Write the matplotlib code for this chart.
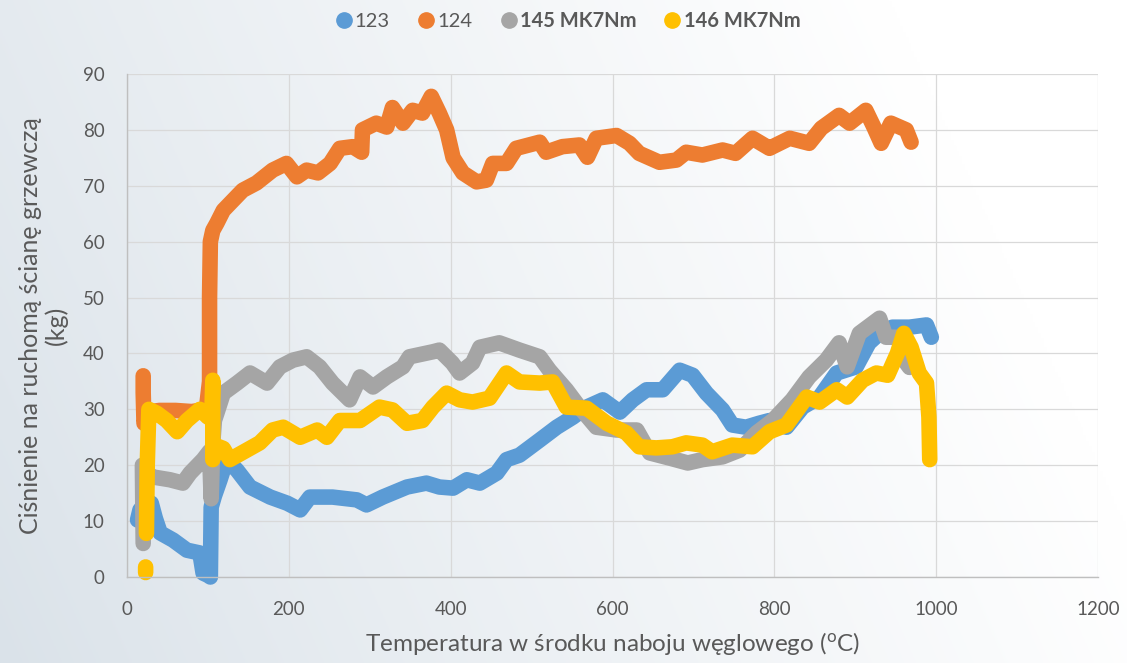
import numpy as np
import matplotlib
matplotlib.use('Agg')
import matplotlib.pyplot as plt

plt.rcParams['font.family'] = ['Lato', 'DejaVu Sans']
plt.rcParams['mathtext.fontset'] = 'custom'
plt.rcParams['mathtext.rm'] = 'Lato'
plt.rcParams['mathtext.it'] = 'Lato'

nan = np.nan

# series 123
blue_x = [13, 16, 22, 30, 35, 41, 57, 74, 90, 94, 100, 103, 104, 108, 115, 123, 136, 152, 177, 198,
          214, 226, 254, 284, 296, 316, 346, 370, 386, 403, 420, 436, 457, 469, 485, 510, 531, 551, 568, 588,
          609, 625, 642, 662, 683, 699, 716, 736, 748, 765, 781, 794, 815, 835, 856, 877, 901, 917, 930, 946,
          967, 988, 994]
blue_y = [10.2, 12.0, 13.0, 13.2, 10.5, 7.9, 6.6, 4.8, 4.3, 0.7, 0.3, 0.0, 12.5, 14.5, 17.4, 21.0, 19.1, 16.1, 14.3, 13.2,
          12.0, 14.3, 14.3, 13.8, 12.9, 14.3, 16.1, 16.8, 16.1, 15.9, 17.4, 16.8, 18.6, 21.0, 21.8, 24.5, 26.8, 28.6, 30.4, 31.7,
          29.5, 31.7, 33.5, 33.5, 37.0, 36.1, 32.9, 29.9, 27.2, 26.8, 27.5, 28.0, 26.8, 30.4, 32.2, 36.5, 37.6, 41.9, 43.6, 44.7,
          44.7, 45.1, 42.9]

# series 124
orange_x = [20, 20, 21, 25, 40, 60, 80, 98, 102, 102, 103, 106, 111, 119, 131, 143, 160, 180, 197, 210,
            222, 236, 251, 263, 279, 290, 291, 308, 321, 328, 341, 353, 365, 376, 386, 395, 403, 415, 432, 444,
            452, 469, 481, 510, 518, 538, 559, 569, 580, 605, 621, 633, 658, 679, 691, 711, 736, 752, 773, 794,
            798, 819, 843, 858, 880, 893, 913, 923, 932, 944, 963, 969]
orange_y = [36, 33, 27.5, 29.5, 29.8, 29.8, 29.6, 30, 35, 50, 60, 62, 63.3, 65.6, 67.4, 69.2, 70.5, 72.8, 74, 71.6,
            72.8, 72.3, 74, 76.7, 77, 76, 80, 81.2, 80.5, 84, 81.2, 83.5, 83, 86, 83, 80, 75, 72.3, 70.7, 71,
            74, 74, 76.7, 77.8, 76, 77, 77.3, 75.1, 78.5, 79, 77.6, 75.8, 74.2, 74.6, 76, 75.5, 76.4, 75.8, 78.5, 76.7,
            77, 78.5, 77.6, 80.3, 82.6, 81.2, 83.5, 80.5, 77.6, 81.2, 80, 77.8]

# series 145 MK7Nm
gray_x = [20, 19, 25, 32, 53, 69, 78, 94, 102, 104, 106, 108, 111, 119, 136, 152, 173, 189, 205, 222,
          238, 254, 275, 288, 304, 321, 341, 349, 378, 386, 402, 411, 427, 436, 460, 485, 510, 522, 543, 559,
          580, 605, 630, 646, 670, 693, 711, 736, 757, 778, 798, 822, 843, 864, 880, 890, 905, 930, 938, 954,
          963, 967]
gray_y = [6, 20, 18.5, 17.9, 17.4, 16.8, 18.6, 21, 22.5, 14, 24, 28, 29.3, 32.9, 34.7, 36.5, 34.7, 37.6, 38.8, 39.4,
          37.6, 34.7, 31.7, 35.8, 34, 35.8, 37.6, 39.4, 40.3, 40.6, 38.3, 36.5, 38.3, 41.1, 41.9, 40.6, 39.4, 37, 33.5, 30.4,
          26.8, 26.3, 26.3, 22.2, 21.3, 20.4, 21, 21.5, 22.7, 25.8, 28, 31.7, 35.8, 38.8, 41.9, 37.6, 43.6, 46.3, 42.9, 42.9,
          38.3, 37.5]

# series 146 MK7Nm (first two points are a separate short piece)
yellow_x = [23, 23, nan, 24, 25, 27, 37, 49, 62, 74, 90, 100, 105, 106, 106, 110, 119, 127, 148, 164,
            180, 193, 214, 235, 247, 263, 288, 312, 328, 346, 365, 378, 395, 411, 427, 448, 469, 485, 510, 526,
            543, 568, 593, 617, 633, 654, 674, 691, 711, 723, 748, 773, 794, 815, 840, 856, 877, 890, 909, 926,
            940, 952, 960, 969, 979, 988, 991, 992]
yellow_y = [0.8, 1.8, nan, 7.8, 20, 30, 29.3, 28, 26, 28, 30, 28.6, 30, 35.2, 21, 23.5, 23, 21, 22.7, 24,
            26.3, 26.8, 25, 26.3, 25, 28, 28, 30.4, 29.9, 27.5, 28, 30.4, 32.9, 31.7, 31.3, 32, 36.5, 34.9, 34.7, 34.9,
            30.4, 30.2, 27.5, 25.8, 23.3, 23.1, 23.3, 24, 23.6, 22.4, 23.6, 23.3, 26, 27.2, 32.2, 31.3, 33.5, 32.2, 35.2, 36.5,
            36.1, 40, 43.6, 41.1, 36.5, 34.7, 28.6, 21]

labels = ['123', '124', '145 MK7Nm', '146 MK7Nm']
colors = ['#5B9BD5', '#ED7D31', '#A5A5A5', '#FFC000']
weights = ['normal', 'normal', 'bold', 'bold']

fig = plt.figure(figsize=(11.27, 6.63), dpi=100)

# soft gradient behind the whole chart
bg = fig.add_axes([0, 0, 1, 1], zorder=-10)
gx, gy = np.meshgrid(np.linspace(0, 1, 400), np.linspace(0, 1, 240))
t = np.clip(gx * 0.95 + (1 - gy) * 0.25, 0, 1) ** 0.9
c0 = np.array([218, 226, 233]) / 255
c1 = np.array([255, 255, 255]) / 255
img = c0 + (c1 - c0) * t[..., None]
bg.imshow(img, aspect='auto', extent=[0, 1, 0, 1], origin='upper')
bg.axis('off')

ax = fig.add_axes([0.1127, 0.1297, 0.8616, 0.7587])
ax.patch.set_alpha(0)

series = [(blue_x, blue_y), (orange_x, orange_y), (gray_x, gray_y), (yellow_x, yellow_y)]
for (xs, ys), col, lab in zip(series, colors, labels):
    ax.plot(xs, ys, color=col, lw=11.2, solid_capstyle='round', solid_joinstyle='round',
            label=lab, clip_on=False)

ax.set_xlim(0, 1200)
ax.set_ylim(0, 90)
ax.set_xticks(range(0, 1201, 200))
ax.set_yticks(range(0, 91, 10))
ax.grid(True, color='#d9d9d9', lw=0.9)
ax.set_axisbelow(True)
ax.tick_params(length=0, labelsize=13.5, colors='#595959')
ax.tick_params(axis='x', pad=17)
ax.tick_params(axis='y', pad=16)
for s in ['top', 'right']:
    ax.spines[s].set_visible(False)
for s in ['left', 'bottom']:
    ax.spines[s].set_color('#bfbfbf')
    ax.spines[s].set_linewidth(1)

ax.set_xlabel(r'Temperatura w środku naboju węglowego ($^{\mathrm{o}}$C)', fontsize=17.5, color='#595959', labelpad=9)
ax.set_ylabel('Ciśnienie na ruchomą ścianę grzewczą\n(kg)', fontsize=18, color='#595959', labelpad=11,
              linespacing=1.1)

handles = [plt.Line2D([], [], marker='o', ls='none', color=c, markersize=11) for c in colors]
leg = fig.legend(handles, labels, loc='center', bbox_to_anchor=(0.503, 0.968), ncol=4, frameon=False,
                 fontsize=14.5, handletextpad=0.05, columnspacing=1.3, handlelength=1.0)
for txt, w in zip(leg.get_texts(), weights):
    txt.set_color('#595959')
    txt.set_fontweight(w)

fig.savefig('out.png', dpi=100)
